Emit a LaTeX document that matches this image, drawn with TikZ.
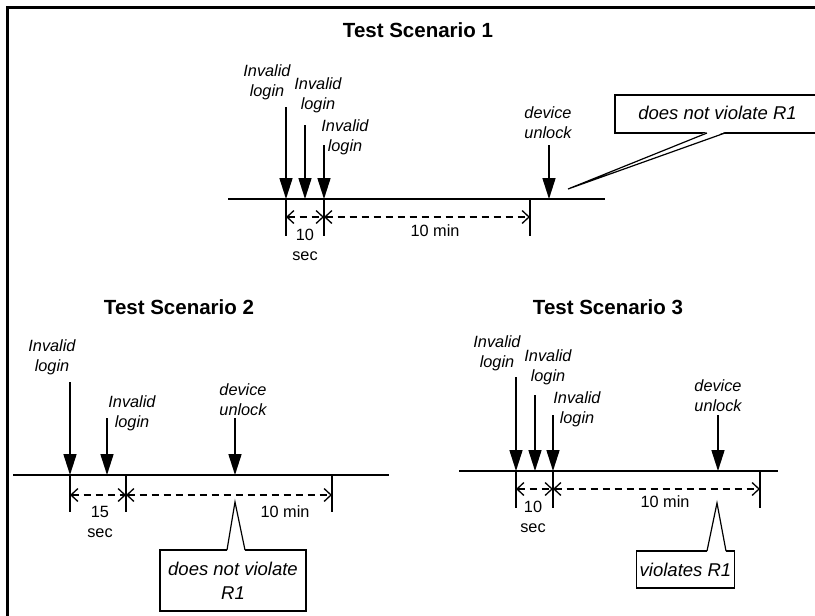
\documentclass[tikz,border=0pt]{standalone}
\usepackage{fontspec}
\setmainfont{Liberation Sans}
\usetikzlibrary{arrows.meta}

\begin{document}
\begin{tikzpicture}[x=1pt,y=-1pt,
  lbl/.style={font=\fontsize{16.3}{20}\selectfont\itshape, align=center, inner sep=0pt},
  num/.style={font=\fontsize{16.3}{20}\selectfont, align=center, inner sep=0pt},
  ttl/.style={font=\fontsize{20.5}{24}\selectfont\bfseries, inner sep=0pt},
  axis/.style={line width=1.4pt},
  evt/.style={line width=1.6pt, -{Triangle[length=21pt,width=13pt]}},
  tickmark/.style={line width=1.4pt},
  span/.style={line width=1.3pt, dash pattern=on 7pt off 5pt,
    {Straight Barb[length=7pt,width=13pt,line width=1.3pt]}-{Straight Barb[length=7pt,width=13pt,line width=1.3pt]}},
  callbox/.style={draw, line width=1.2pt, fill=white, outer sep=0pt, align=center,
    font=\fontsize{18.5}{24}\selectfont\itshape},
  tail/.style={line width=1.2pt}]

\useasboundingbox (0,0) rectangle (815,616);
\clip (0,0) rectangle (815,616);
\fill[white] (0,0) rectangle (815,616);

% outer frame
\draw[line width=3pt] (7,640) -- (7,7) -- (840,7);

% ---------------- Scenario 1 ----------------
\node[ttl] (s1title) at (418,30) {Test Scenario 1};
\coordinate (s1a) at (228,199);
\coordinate (s1b) at (605,199);
\draw[axis] (s1a) -- (s1b);

\node[lbl] (s1l1) at (267,82) {Invalid\\login};
\node[lbl] (s1l2) at (318,95) {Invalid\\login};
\node[lbl] (s1l3) at (345,137) {Invalid\\login};
\node[lbl] (s1l4) at (548,123) {device\\unlock};

\coordinate (s1e1s) at (286,107); \coordinate (s1e1) at (286,199);
\coordinate (s1e2s) at (305,125); \coordinate (s1e2) at (305,199);
\coordinate (s1e3s) at (324,145); \coordinate (s1e3) at (324,199);
\coordinate (s1e4s) at (549,145); \coordinate (s1e4) at (549,199);
\draw[evt] (s1e1s) -- (s1e1);
\draw[evt] (s1e2s) -- (s1e2);
\draw[evt] (s1e3s) -- (s1e3);
\draw[evt] (s1e4s) -- (s1e4);

\coordinate (s1t1) at (286,236);
\coordinate (s1t2) at (324,236);
\coordinate (s1t3a) at (530,199); \coordinate (s1t3) at (530,236);
\draw[tickmark] (s1e1) -- (s1t1);
\draw[tickmark] (s1e3) -- (s1t2);
\draw[tickmark] (s1t3a) -- (s1t3);

\coordinate (s1d1) at (286,217);
\coordinate (s1d2) at (324,217);
\coordinate (s1d3) at (530,217);
\draw[span] (s1d1) -- (s1d2);
\draw[span] (s1d2) -- (s1d3);
\node[num] (s1n1) at (305,245) {10\\sec};
\node[num] (s1n2) at (435,231) {10 min};

% callout box runs on past the right edge of the page
\node[callbox, minimum width=225pt, minimum height=38pt] (s1c) at (727.5,114) {};
\node[inner sep=0pt, font=\fontsize{18.5}{24}\selectfont\itshape] (s1ct) at (717.5,113) {does not violate R1};
\coordinate (s1tip) at (568,189);
\fill[white] ([xshift=-20.5pt,yshift=1pt]s1c.south) -- (s1tip) -- ([xshift=-2.5pt,yshift=1pt]s1c.south) -- cycle;
\draw[tail] ([xshift=-20.5pt]s1c.south) -- (s1tip) -- ([xshift=-2.5pt]s1c.south);

% ---------------- Scenario 2 ----------------
\node[ttl] (s2title) at (179,307) {Test Scenario 2};
\coordinate (s2a) at (13,475);
\coordinate (s2b) at (389,475);
\draw[axis] (s2a) -- (s2b);

\node[lbl] (s2l1) at (52,357.5) {Invalid\\login};
\node[lbl] (s2l2) at (132,413) {Invalid\\login};
\node[lbl] (s2l3) at (243,399.5) {device\\unlock};

\coordinate (s2e1s) at (70,382);  \coordinate (s2e1) at (70,475);
\coordinate (s2e2s) at (107,418); \coordinate (s2e2) at (107,475);
\coordinate (s2e3s) at (235,418); \coordinate (s2e3) at (235,475);
\draw[evt] (s2e1s) -- (s2e1);
\draw[evt] (s2e2s) -- (s2e2);
\draw[evt] (s2e3s) -- (s2e3);

\coordinate (s2t1) at (70,512);
\coordinate (s2t2a) at (126,475); \coordinate (s2t2) at (126,512);
\coordinate (s2t3a) at (332,475); \coordinate (s2t3) at (332,512);
\draw[tickmark] (s2e1) -- (s2t1);
\draw[tickmark] (s2t2a) -- (s2t2);
\draw[tickmark] (s2t3a) -- (s2t3);

\coordinate (s2d1) at (70,495);
\coordinate (s2d2) at (126,495);
\coordinate (s2d3) at (332,495);
\draw[span] (s2d1) -- (s2d2);
\draw[span] (s2d2) -- (s2d3);
\node[num] (s2n1) at (100,522) {15\\sec};
\node[num] (s2n2) at (285,512) {10 min};

\node[callbox, minimum width=146pt, minimum height=61pt] (s2c) at (233,580.5) {does not violate\\R1};
\coordinate (s2tip) at (235,502);
\fill[white] ([xshift=-6pt,yshift=-1pt]s2c.north) -- (s2tip) -- ([xshift=12pt,yshift=-1pt]s2c.north) -- cycle;
\draw[tail] ([xshift=-6pt]s2c.north) -- (s2tip) -- ([xshift=12pt]s2c.north);

% ---------------- Scenario 3 ----------------
\node[ttl] (s3title) at (608,307) {Test Scenario 3};
\coordinate (s3a) at (459,471);
\coordinate (s3b) at (778,471);
\draw[axis] (s3a) -- (s3b);

\node[lbl] (s3l1) at (497,353.5) {Invalid\\login};
\node[lbl] (s3l2) at (548,367) {Invalid\\login};
\node[lbl] (s3l3) at (577,409.5) {Invalid\\login};
\node[lbl] (s3l4) at (718,396) {device\\unlock};

\coordinate (s3e1s) at (516,377); \coordinate (s3e1) at (516,471);
\coordinate (s3e2s) at (535,395); \coordinate (s3e2) at (535,471);
\coordinate (s3e3s) at (553,415); \coordinate (s3e3) at (553,471);
\coordinate (s3e4s) at (718,415); \coordinate (s3e4) at (718,471);
\draw[evt] (s3e1s) -- (s3e1);
\draw[evt] (s3e2s) -- (s3e2);
\draw[evt] (s3e3s) -- (s3e3);
\draw[evt] (s3e4s) -- (s3e4);

\coordinate (s3t1) at (516,508);
\coordinate (s3t2) at (553,508);
\coordinate (s3t3a) at (760,471); \coordinate (s3t3) at (760,508);
\draw[tickmark] (s3e1) -- (s3t1);
\draw[tickmark] (s3e3) -- (s3t2);
\draw[tickmark] (s3t3a) -- (s3t3);

\coordinate (s3d1) at (516,489);
\coordinate (s3d2) at (553,489);
\coordinate (s3d3) at (760,489);
\draw[span] (s3d1) -- (s3d2);
\draw[span] (s3d2) -- (s3d3);
\node[num] (s3n1) at (533,517) {10\\sec};
\node[num] (s3n2) at (665,502) {10 min};

\node[callbox, minimum width=85pt, minimum height=37pt] (s3c) at (685.5,569.5) {violates R1};
\coordinate (s3tip) at (717,503);
\fill[white] ([xshift=21.5pt,yshift=-1pt]s3c.north) -- (s3tip) -- ([xshift=40.5pt,yshift=-1pt]s3c.north) -- cycle;
\draw[tail] ([xshift=21.5pt]s3c.north) -- (s3tip) -- ([xshift=40.5pt]s3c.north);

\end{tikzpicture}
\end{document}
